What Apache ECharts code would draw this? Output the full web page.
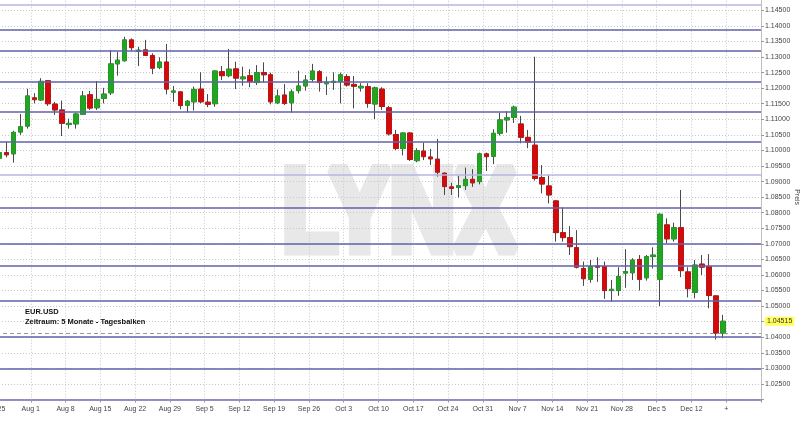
<!DOCTYPE html>
<html><head><meta charset="utf-8">
<script src="https://cdn.jsdelivr.net/npm/echarts@6/dist/echarts.min.js"></script>
<style>html,body{margin:0;padding:0;background:#fff}#c{width:800px;height:445px}</style>
</head><body><div id="c"></div><script>
// ---- data ----
const months = ['Jan','Feb','Mar','Apr','May','Jun','Jul','Aug','Sep','Oct','Nov','Dec'];
const futureLabel = '+';
const opens = [1.0975,1.0993,1.0989,1.1059,1.1078, 1.1169,1.1162,1.1224,1.1149,1.1130,
 1.1083,1.1085,1.1116,1.1179,1.1137, 1.1167,1.1185,1.1278,1.1288,1.1355,
 1.1318,1.1323,1.1305,1.1266,1.1284, 1.1187,1.1188,1.1145,1.1156,1.1197,
 1.1155,1.1150,1.1253,1.1240,1.1262, 1.1230,1.1240,1.1218,1.1250,1.1243,
 1.1153,1.1178,1.1153,1.1192,1.1207, 1.1228,1.1253,1.1214,1.1219,1.1222,
 1.1237,1.1212,1.1201,1.1205,1.1149, 1.1197,1.1137,1.1051,1.1006,1.1056,
 1.0967,1.0998,1.0979,1.0972,1.0927, 1.0883,1.0881,1.0887,1.0907,1.0900,
 1.0989,1.0981,1.1055,1.1098,1.1106, 1.1085,1.1042,1.1017,1.0913,1.0886,
 1.0838,1.0736,1.0720,1.0688,1.0621, 1.0586,1.0629,1.0627,1.0550,1.0550,
 1.0606,1.0607,1.0650,1.0591,1.0659, 1.0586,1.0761,1.0716,1.0752,1.0610,
 1.0544,1.0635,1.0627,1.0533,1.0413];
const closes = [1.0993,1.0986,1.1058,1.1076,1.1175, 1.1163,1.1222,1.1150,1.1130,1.1087,
 1.1087,1.1117,1.1175,1.1136,1.1164, 1.1181,1.1278,1.1290,1.1355,1.1330,
 1.1322,1.1305,1.1264,1.1284,1.1197, 1.1191,1.1144,1.1158,1.1196,1.1156,
 1.1148,1.1255,1.1240,1.1261,1.1232, 1.1236,1.1221,1.1250,1.1243,1.1156,
 1.1175,1.1151,1.1188,1.1207,1.1226, 1.1255,1.1218,1.1219,1.1222,1.1243,
 1.1210,1.1206,1.1206,1.1151,1.1201, 1.1141,1.1053,1.1006,1.1056,1.0971,
 1.0999,1.0980,1.0973,1.0930,1.0884, 1.0878,1.0887,1.0907,1.0896,1.0989,
 1.0980,1.1055,1.1098,1.1105,1.1139, 1.1042,1.1026,1.0910,1.0892,1.0857,
 1.0736,1.0720,1.0691,1.0625,1.0588, 1.0627,1.0625,1.0550,1.0554,1.0595,
 1.0611,1.0648,1.0586,1.0659,1.0664, 1.0795,1.0716,1.0752,1.0614,1.0556,
 1.0632,1.0625,1.0534,1.0413,1.04515];
const lows = [1.0969,1.0978,1.0961,1.1050,1.1070, 1.1151,1.1159,1.1143,1.1114,1.1046,
 1.1070,1.1070,1.1114,1.1130,1.1130, 1.1151,1.1178,1.1240,1.1285,1.1320,
 1.1271,1.1303,1.1245,1.1261,1.1180, 1.1156,1.1132,1.1122,1.1128,1.1151,
 1.1139,1.1140,1.1226,1.1235,1.1197, 1.1208,1.1203,1.1210,1.1218,1.1148,
 1.1149,1.1146,1.1121,1.1183,1.1192, 1.1221,1.1189,1.1178,1.1194,1.1151,
 1.1205,1.1135,1.1189,1.1137,1.1101, 1.1130,1.1048,1.1001,1.0984,1.0966,
 1.0962,1.0969,1.0953,1.0916,1.0857, 1.0857,1.0849,1.0873,1.0883,1.0891,
 1.0934,1.0956,1.1048,1.1057,1.1088, 1.1023,1.1007,1.0903,1.0862,1.0830,
 1.0707,1.0707,1.0664,1.0621,1.0565, 1.0575,1.0578,1.0523,1.0514,1.0533,
 1.0559,1.0584,1.0550,1.0582,1.0621, 1.0500,1.0702,1.0707,1.0593,1.0528,
 1.0525,1.0600,1.0493,1.0393,1.0397];
const highs = [1.1001,1.1028,1.1063,1.1117,1.1198, 1.1184,1.1232,1.1226,1.1156,1.1160,
 1.1102,1.1121,1.1191,1.1191,1.1223, 1.1201,1.1323,1.1317,1.1365,1.1360,
 1.1333,1.1355,1.1312,1.1299,1.1342, 1.1207,1.1190,1.1162,1.1205,1.1251,
 1.1181,1.1258,1.1271,1.1326,1.1285, 1.1269,1.1261,1.1274,1.1283,1.1250,
 1.1196,1.1213,1.1196,1.1256,1.1242, 1.1278,1.1258,1.1237,1.1251,1.1250,
 1.1245,1.1239,1.1216,1.1216,1.1205, 1.1203,1.1143,1.1066,1.1058,1.1059,
 1.1007,1.1025,1.1005,1.1037,1.0929, 1.0896,1.0918,1.0945,1.0940,1.0993,
 1.0993,1.1068,1.1121,1.1126,1.1144, 1.1111,1.1066,1.1301,1.0953,1.0921,
 1.0841,1.0817,1.0757,1.0744,1.0643, 1.0648,1.0657,1.0643,1.0584,1.0625,
 1.0683,1.0654,1.0664,1.0664,1.0689, 1.0798,1.0782,1.0768,1.0873,1.0625,
 1.0648,1.0664,1.0667,1.0535,1.0472];
const lastPrice = 1.04515;
const lastOpen = 1.0413;
const levelsDark = [1.1389,1.1319,1.1222,1.1123,1.1028,1.0817,1.0700,1.0629,1.0517,1.0402,1.0298];
const levelsLight = [1.1468,1.0922];
const totalSlots = 110;

// ---- categories: trading days from Jul 25 2022 ----
const categories = [];
for (let d = new Date(Date.UTC(2022,6,25)); categories.length < totalSlots; d.setUTCDate(d.getUTCDate()+1)) {
  const wd = d.getUTCDay();
  if (wd === 0 || wd === 6) continue;
  categories.push(months[d.getUTCMonth()] + ' ' + d.getUTCDate());
}
const nData = opens.length;
const wickData = opens.map((o,i)=>[o, closes[i], lows[i], highs[i]]);
const bodyData = opens.map((o,i)=>[o, closes[i], Math.min(o,closes[i]), Math.max(o,closes[i])]);

const GREEN = '#1fa81f', RED = '#d40a0a', FONT = 'Liberation Sans, Arial, sans-serif';
const weekStart = (i) => i % 5 === 0;

const chart = echarts.init(document.getElementById('c'), null, {renderer:'canvas'});
chart.setOption({
  animation: false,
  backgroundColor: '#ffffff',
  grid: {left: -4, right: 39, top: -5.27, bottom: 45.45, containLabel: false, outerBoundsMode: 'none'},
  xAxis: {
    type: 'category', data: categories, boundaryGap: true,
    axisLine: {show: true, lineStyle: {color: '#6e6eb4', width: 1.5}},
    axisTick: {show: true, interval: (i)=>weekStart(i), length: 3, lineStyle: {color: '#999'}},
    axisLabel: {interval: (i)=>weekStart(i), formatter: (v,i)=> i === nData ? futureLabel : v,
      fontSize: 7, color: '#444', fontFamily: FONT, margin: 6, padding: [0,7,0,0], hideOverlap: false},
    splitLine: {show: true, interval: (i)=>weekStart(i), lineStyle: {color: '#c8c8c8', type: [1,2], width: 1}}
  },
  yAxis: {
    type: 'value', position: 'right', min: 1.02, max: 1.15, interval: 0.005, scale: true,
    axisLine: {show: true, lineStyle: {color: '#c0c0c0'}},
    axisTick: {show: true, length: 3, lineStyle: {color: '#999'}},
    axisLabel: {fontSize: 7, color: '#444', fontFamily: FONT, margin: 4,
      formatter: (v)=> (v < 1.0225 || v > 1.1475) ? '' : v.toFixed(5)},
    splitLine: {show: true, lineStyle: {color: '#c8c8c8', type: [1,2], width: 1}},
    name: 'Preis', nameLocation: 'middle', nameRotate: -90, nameGap: 32, nameMoveOverlap: false,
    nameTextStyle: {fontSize: 7, color: '#444', fontFamily: FONT}
  },
  graphic: {elements: [
    {type: 'text', x: 399, y: 218, scaleX: 0.78, z: -10, silent: true,
     style: {text: 'LYNX', font: 'bold 116px ' + FONT, fill: '#e8e8e8', stroke: '#e8e8e8', lineWidth: 11,
       lineJoin: 'miter', textAlign: 'center', textVerticalAlign: 'middle'}},
    {type: 'text', left: 25, top: 308, z: 100,
     style: {text: 'EUR.USD', font: 'bold 7.5px ' + FONT, fill: '#111'}},
    {type: 'text', left: 25, top: 318, z: 100,
     style: {text: 'Zeitraum: 5 Monate - Tagesbalken', font: 'bold 7.5px ' + FONT, fill: '#111'}}
  ]},
  series: [
    {
      type: 'candlestick', data: wickData, barWidth: 5, silent: true,
      itemStyle: {color: 'rgba(0,0,0,0)', color0: 'rgba(0,0,0,0)', borderColor: '#4a4a4a', borderColor0: '#4a4a4a', borderWidth: 1},
      markLine: {silent: true, precision: 5, symbol: ['none','none'], label: {show: false},
        data: levelsDark.map(v=>({yAxis: v, lineStyle: {color: '#6262ae', width: 1.5, type: 'solid'}}))
          .concat(levelsLight.map(v=>({yAxis: v, lineStyle: {color: '#b6b6e2', width: 1.5, type: 'solid'}})))
          .concat([{yAxis: lastOpen, lineStyle: {color: '#999', width: 1, type: [4,3]}}])
      }
    },
    {
      type: 'candlestick', data: bodyData, barWidth: 5, silent: true,
      itemStyle: {color: GREEN, color0: RED, borderColor: GREEN, borderColor0: RED, borderWidth: 0.6},
      markLine: {silent: true, precision: 5, symbol: ['none','none'],
        data: [{yAxis: lastPrice, lineStyle: {width: 1, color: 'rgba(0,0,0,0)'},
          label: {show: true, position: 'end', formatter: lastPrice.toFixed(5), backgroundColor: '#ffff55',
            color: '#333', fontSize: 7, fontFamily: FONT, padding: [1,2,1,2], distance: 4}}]}
    }
  ]
});
</script></body></html>
